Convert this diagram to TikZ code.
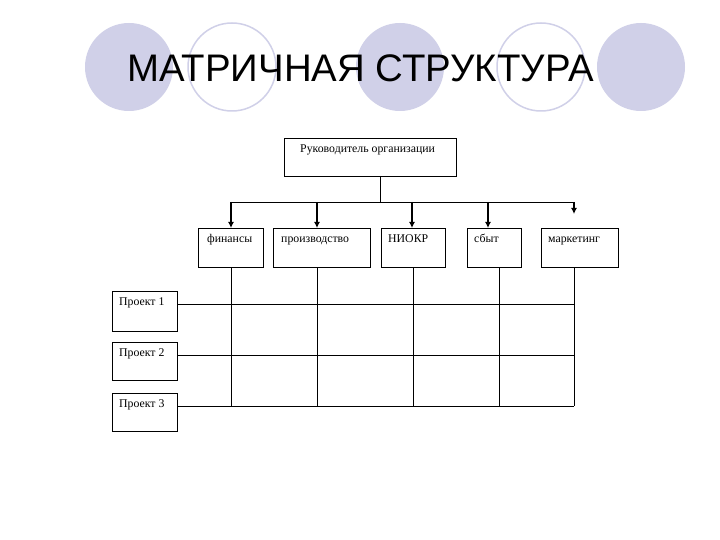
\documentclass[tikz,border=0pt]{standalone}
\usepackage{fontspec}
\setmainfont{Liberation Serif}
\newfontfamily\titlefont{Liberation Sans}
\usetikzlibrary{arrows.meta}
\begin{document}
\begin{tikzpicture}[x=1pt,y=-1pt,
  box/.style={draw,line width=0.8pt,inner sep=0pt,anchor=north west},
  lbl/.style={font=\fontsize{11.8}{14}\selectfont,anchor=base west,inner sep=0pt},
  ln/.style={line width=0.8pt},
  arr/.style={line width=1.6pt,-{Latex[length=6pt,width=6pt]}},
  ring/.style={draw=lav,line width=1.5pt,fill=none}]
\definecolor{lav}{RGB}{208,208,232}
\useasboundingbox (0,0) rectangle (720,540);
\fill[white] (0,0) rectangle (720,540);
\fill[lav] (129,67) circle (44) (400,67) circle (44) (641,67) circle (44);
\draw[ring] (232,67) circle (44) (541,67) circle (44);
\node[anchor=base west,inner sep=0pt,font=\titlefont\fontsize{38.4}{44}\selectfont] (title) at (127,82) {МАТРИЧНАЯ СТРУКТУРА};
\draw[box] (284,138) rectangle (456,176);
\node[lbl] (head) at (300,153) {Руководитель организации};
\coordinate (hb) at (380,176);
\coordinate (hj) at (380,202);
\draw[ln] (hb) -- (hj);
\coordinate (hl) at (231,202);
\coordinate (hr) at (574,202);
\draw[ln] (hl) -- (hr);
\draw[box] (198,228) rectangle (263,267);
\node[lbl] (d1) at (207,242) {финансы};
\draw[box] (273,228) rectangle (370,267);
\node[lbl] (d2) at (281,242) {производство};
\draw[box] (381,228) rectangle (445,267);
\node[lbl] (d3) at (388,242) {НИОКР};
\draw[box] (467,228) rectangle (521,267);
\node[lbl] (d4) at (474,242) {сбыт};
\draw[box] (541,228) rectangle (618,267);
\node[lbl] (d5) at (548,242) {маркетинг};
\coordinate (a1) at (231,202); \coordinate (t1) at (231,228);
\coordinate (a2) at (317,202); \coordinate (t2) at (317,228);
\coordinate (a3) at (412,202); \coordinate (t3) at (412,228);
\coordinate (a4) at (488,202); \coordinate (t4) at (488,228);
\coordinate (a5) at (574,202); \coordinate (t5) at (574,214);
\draw[arr] (a1) -- (t1);
\draw[arr] (a2) -- (t2);
\draw[arr] (a3) -- (t3);
\draw[arr] (a4) -- (t4);
\draw[arr] (a5) -- (t5);
\foreach \x in {231,317,413,499,574} \draw[ln] (\x,267) -- (\x,406);
\draw[box] (112,291) rectangle (177,331);
\node[lbl] (p1) at (119,305) {Проект 1};
\draw[box] (112,342) rectangle (177,380);
\node[lbl] (p2) at (119,356) {Проект 2};
\draw[box] (112,393) rectangle (177,431);
\node[lbl] (p3) at (119,407) {Проект 3};
\foreach \y in {304,355,406} \draw[ln] (177,\y) -- (574,\y);
\end{tikzpicture}
\end{document}
